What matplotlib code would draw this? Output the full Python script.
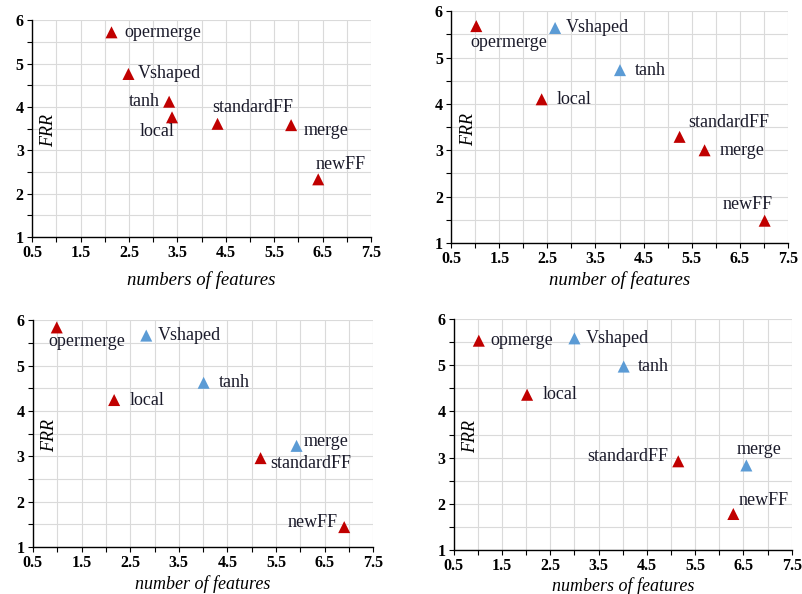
import matplotlib
matplotlib.use("Agg")
import matplotlib.pyplot as plt
from matplotlib.ticker import MultipleLocator

plt.rcParams["font.family"] = ["Liberation Serif", "DejaVu Serif"]

# ---- data ----
# group "A" = red triangles, group "B" = blue triangles

p1_names = ["opermerge", "Vshaped", "tanh", "local", "standardFF", "merge", "newFF"]
p1_x = [2.14, 2.49, 3.33, 3.39, 4.33, 5.85, 6.41]
p1_y = [5.72, 4.76, 4.12, 3.76, 3.61, 3.58, 2.33]
p1_group = ["A", "A", "A", "A", "A", "A", "A"]

p2_names = ["opermerge", "Vshaped", "tanh", "local", "standardFF", "merge", "newFF"]
p2_x = [1.02, 2.66, 4.01, 2.38, 5.25, 5.77, 7.02]
p2_y = [5.68, 5.64, 4.73, 4.10, 3.29, 3.00, 1.48]
p2_group = ["A", "B", "B", "A", "A", "A", "A"]

p3_names = ["opermerge", "Vshaped", "tanh", "local", "merge", "standardFF", "newFF"]
p3_x = [0.99, 2.83, 4.01, 2.17, 5.92, 5.18, 6.90]
p3_y = [5.84, 5.66, 4.62, 4.24, 3.23, 2.96, 1.44]
p3_group = ["A", "B", "B", "A", "B", "A", "A"]

p4_names = ["opmerge", "Vshaped", "tanh", "local", "standardFF", "merge", "newFF"]
p4_x = [1.02, 3.00, 4.02, 2.02, 5.15, 6.56, 6.29]
p4_y = [5.53, 5.58, 4.97, 4.36, 2.92, 2.83, 1.78]
p4_group = ["A", "B", "B", "A", "A", "B", "A"]

xlabels = ["numbers of features", "number of features",
           "number of features", "numbers of features"]

# ---- styling / layout ----
colors = {"A": "#C00000", "B": "#5B9BD5"}

# axes rectangles [left, bottom, width, height] in figure fractions
rects = [
    [0.040, 0.601, 0.422, 0.365],
    [0.562, 0.591, 0.419, 0.390],
    [0.041, 0.079, 0.424, 0.382],
    [0.565, 0.074, 0.421, 0.389],
]
xlabel_y = [-0.20, -0.16, -0.162, -0.155]
xlabel_size = [13.5, 13.5, 13, 13]

# label offsets in points (dx, dy, ha) for each point label
offsets = [
    [(9, 0, "left"), (7, 0, "left"), (-7, 0, "right"), (2, -10, "right"),
     (-4, 12, "left"), (9, -4, "left"), (-2, 11, "left")],
    [(-4, -12, "left"), (8, 0, "left"), (11, 0, "left"), (11, 0, "left"),
     (6, 10, "left"), (11, 0, "left"), (-12, 12, "center")],
    [(-6, -10, "left"), (8, 0, "left"), (11, 0, "left"), (11, 0, "left"),
     (5, 3.5, "left"), (7, -4, "left"), (-5, 3, "right")],
    [(8, 0, "left"), (8, 0, "left"), (10, 0, "left"), (11, 0, "left"),
     (-7, 3.5, "right"), (9, 11.5, "center"), (3.5, 9.5, "left")],
]

panels = [
    (p1_names, p1_x, p1_y, p1_group),
    (p2_names, p2_x, p2_y, p2_group),
    (p3_names, p3_x, p3_y, p3_group),
    (p4_names, p4_x, p4_y, p4_group),
]

fig = plt.figure(figsize=(8.03, 5.94), dpi=100)

for i, (names, xs, ys, groups) in enumerate(panels):
    ax = fig.add_axes(rects[i])
    cols = [colors[g] for g in groups]
    ax.scatter(xs, ys, marker="^", s=75, c=cols, linewidths=0, zorder=3)

    for j, name in enumerate(names):
        dx, dy, ha = offsets[i][j]
        ax.annotate(name, (xs[j], ys[j]), xytext=(dx, dy),
                    textcoords="offset points", ha=ha, va="center",
                    fontsize=13, color="#1a1a2a", zorder=4)

    ax.set_xlim(0.5, 7.5)
    ax.set_ylim(1, 6)
    ax.set_xticks([0.5, 1.5, 2.5, 3.5, 4.5, 5.5, 6.5, 7.5])
    ax.set_xticks([1, 2, 3, 4, 5, 6, 7], minor=True)
    ax.yaxis.set_major_locator(MultipleLocator(1.0))
    ax.yaxis.set_minor_locator(MultipleLocator(0.5))

    ax.grid(True, which="both", color="#DADADA", linewidth=0.8, zorder=0)
    ax.set_axisbelow(True)
    for side in ["top", "right"]:
        ax.spines[side].set_visible(False)
    for side in ["left", "bottom"]:
        ax.spines[side].set_color("black")
        ax.spines[side].set_linewidth(1.0)

    ax.tick_params(which="both", direction="out", length=3.5, width=0.8,
                   colors="black", labelsize=11.5, pad=2.5)
    for lab in ax.get_xticklabels() + ax.get_yticklabels():
        lab.set_fontweight("bold")

    ax.text(0.05, 0.49, "FRR", transform=ax.transAxes, rotation=90,
            fontsize=13, style="italic", ha="center", va="center")
    ax.text(0.5, xlabel_y[i], xlabels[i], transform=ax.transAxes,
            fontsize=xlabel_size[i], style="italic", ha="center", va="center")

fig.savefig("out.png", dpi=100)
